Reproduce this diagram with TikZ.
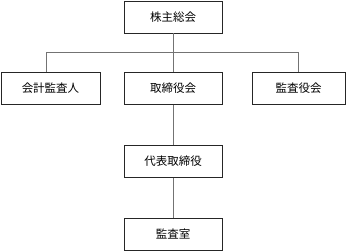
\documentclass[tikz,border=0pt]{standalone}
\usepackage{fontspec}
\newfontfamily\jp{Noto Sans CJK JP}
\begin{document}
\begin{tikzpicture}[x=1pt,y=1pt,
  orgbox/.style={draw=black!85,line width=0.9pt,fill=white,minimum height=32pt,inner sep=0pt,font=\jp\fontsize{11.5}{13}\selectfont},
  link/.style={draw=black!55,line width=0.9pt}]
\useasboundingbox (0,0) rectangle (346,252);
\node[orgbox,minimum width=98pt] (soukai) at (173,235) {株主総会};
\node[orgbox,minimum width=99pt] (kaikei) at (50.5,163.5) {会計監査人};
\node[orgbox,minimum width=98pt] (torishimari) at (173,163.5) {取締役会};
\node[orgbox,minimum width=93pt] (kansayaku) at (298.5,163.5) {監査役会};
\node[orgbox,minimum width=98pt] (daihyo) at (173,90.5) {代表取締役};
\node[orgbox,minimum width=98pt] (kansashitsu) at (173,17.5) {監査室};
\coordinate (bl) at (46,200);
\coordinate (br) at (298,200);
\draw[link] (soukai.south) -- (torishimari.north);
\draw[link] (bl |- kaikei.north) -- (bl) -- (br) -- (br |- kansayaku.north);
\draw[link] (torishimari.south) -- (daihyo.north);
\draw[link] (daihyo.south) -- (kansashitsu.north);
\end{tikzpicture}
\end{document}
